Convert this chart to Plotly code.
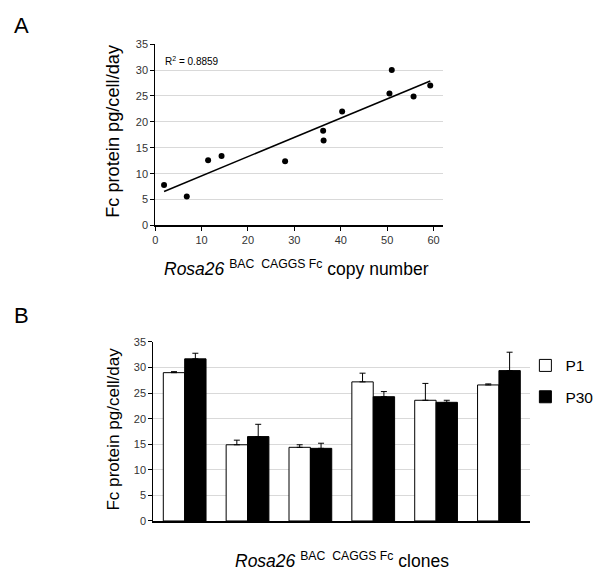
import numpy as np
import plotly.graph_objects as go

W, H = 600, 587
FONT = "Liberation Sans, Arial, sans-serif"

# ---- Panel A data ----
copy_number = [1.9, 6.8, 11.4, 14.3, 28.0, 36.2, 36.3, 40.3, 50.5, 51.0, 55.7, 59.3]
fc_protein = [7.8, 5.6, 12.6, 13.4, 12.4, 18.3, 16.4, 22.0, 25.5, 30.0, 24.9, 27.0]
r2_label = "R<sup>2</sup> = 0.8859"

# ---- Panel B data ----
clones = ["1", "2", "3", "4", "5", "6"]
p1_values = [29.0, 14.9, 14.4, 27.2, 23.6, 26.6]
p1_errors = [0.2, 0.9, 0.5, 1.7, 3.3, 0.2]
p30_values = [31.7, 16.5, 14.2, 24.3, 23.2, 29.4]
p30_errors = [1.1, 2.4, 1.0, 1.0, 0.4, 3.6]
y_ticks = [0, 5, 10, 15, 20, 25, 30, 35]
x_ticks = [0, 10, 20, 30, 40, 50, 60]


def px(x):
    return x / W


def py(y):
    return 1 - y / H


fig = go.Figure()

# Scatter points
fig.add_trace(go.Scatter(x=copy_number, y=fc_protein, mode="markers",
                         marker=dict(color="black", size=6),
                         showlegend=False, xaxis="x", yaxis="y"))
# Linear trendline computed from data
slope, intercept = np.polyfit(copy_number, fc_protein, 1)
xs = [min(copy_number), max(copy_number)]
fig.add_trace(go.Scatter(x=xs, y=[slope * v + intercept for v in xs], mode="lines",
                         line=dict(color="black", width=1.5),
                         showlegend=False, xaxis="x", yaxis="y"))

# Bars
fig.add_trace(go.Bar(x=clones, y=p1_values, name="P1",
                     marker=dict(color="white", line=dict(color="black", width=1)),
                     error_y=dict(type="data", array=p1_errors, arrayminus=[0] * 6,
                                  symmetric=False, color="black", thickness=1, width=3),
                     xaxis="x2", yaxis="y2", legend="legend"))
fig.add_trace(go.Bar(x=clones, y=p30_values, name="P30",
                     marker=dict(color="black", line=dict(color="black", width=1)),
                     error_y=dict(type="data", array=p30_errors, arrayminus=[0] * 6,
                                  symmetric=False, color="black", thickness=1, width=3),
                     xaxis="x2", yaxis="y2", legend="legend2"))

tickfont = dict(family=FONT, size=11, color="#333333")
common_y = dict(range=[0, 35], tickvals=y_ticks, showgrid=True, gridcolor="#d9d9d9",
                gridwidth=1, showline=True, linecolor="black", linewidth=1,
                ticks="outside", ticklen=4, tickcolor="black", zeroline=False,
                tickfont=tickfont, fixedrange=True)

fig.update_layout(
    width=W, height=H,
    margin=dict(l=0, r=0, t=0, b=0),
    paper_bgcolor="white", plot_bgcolor="white",
    font=dict(family=FONT, color="black"),
    barmode="group", bargap=0.32, bargroupgap=0,
    xaxis=dict(domain=[px(153), px(442)], range=[0, 62], tickvals=x_ticks,
               showline=True, linecolor="black", linewidth=1.5, ticks="outside",
               ticklen=4, tickcolor="black", showgrid=False, zeroline=False,
               tickfont=tickfont, anchor="y", fixedrange=True),
    yaxis=dict(domain=[py(224), py(39)], anchor="x", **common_y),
    xaxis2=dict(domain=[px(151), px(530)], showline=True, linecolor="black",
                linewidth=1.5, showticklabels=False, ticks="", showgrid=False,
                anchor="y2", fixedrange=True),
    yaxis2=dict(domain=[py(525.7), py(343)], anchor="x2", **common_y),
    legend=dict(x=px(525), y=py(350), xanchor="left", yanchor="top",
                font=dict(family=FONT, size=15.5, color="black"), bgcolor="rgba(0,0,0,0)"),
    legend2=dict(x=px(525), y=py(382), xanchor="left", yanchor="top",
                 font=dict(family=FONT, size=15.5, color="black"), bgcolor="rgba(0,0,0,0)"),
)

ann = [
    dict(text="A", x=px(9), y=py(20), xanchor="left", yanchor="middle",
         font=dict(size=22)),
    dict(text="B", x=px(9), y=py(316), xanchor="left", yanchor="middle",
         font=dict(size=22)),
    dict(text=r2_label, x=px(161), y=py(56), xanchor="left", yanchor="middle",
         font=dict(size=10)),
    dict(text="Fc protein pg/cell/day", x=px(111), y=py(127), textangle=-90,
         xanchor="center", yanchor="middle", font=dict(size=18.2)),
    dict(text="Fc protein pg/cell/day", x=px(111), y=py(432), textangle=-90,
         xanchor="center", yanchor="middle", font=dict(size=17.1)),
    dict(text="<i>Rosa26</i> <sup>BAC  CAGGS Fc</sup> copy number", x=px(295), y=py(267),
         xanchor="center", yanchor="middle", font=dict(size=17.5)),
    dict(text="<i>Rosa26</i> <sup>BAC  CAGGS Fc</sup> clones", x=px(341), y=py(566),
         xanchor="center", yanchor="middle", font=dict(size=17.5)),
]
for a in ann:
    a.update(xref="paper", yref="paper", showarrow=False)
    a["font"] = dict(family=FONT, color="black", **a["font"])
fig.update_layout(annotations=ann)

fig.write_html("out.html", config={"displayModeBar": False},
               post_script="document.body.style.margin='0px';document.body.style.padding='0px';")
